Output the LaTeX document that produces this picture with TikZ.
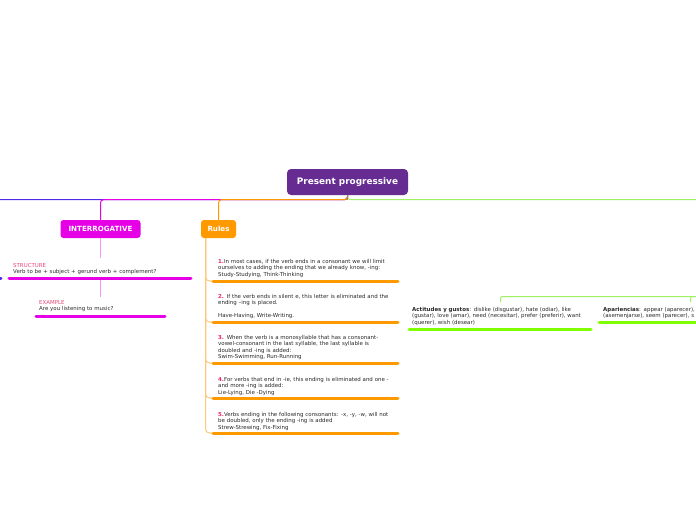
\documentclass[tikz,border=0pt]{standalone}
\usepackage{fontspec}
\setmainfont{DejaVu Sans}
\definecolor{rootc}{RGB}{102,44,145}
\definecolor{magc}{RGB}{230,0,230}
\definecolor{pinkl}{RGB}{245,150,245}
\definecolor{orc}{RGB}{255,153,0}
\definecolor{orl}{RGB}{255,200,120}
\definecolor{grc}{RGB}{128,255,0}
\definecolor{grl}{RGB}{160,240,100}
\definecolor{bluec}{RGB}{80,40,230}
\definecolor{olivec}{RGB}{160,140,80}
\definecolor{labc}{RGB}{232,70,120}
\definecolor{numc}{RGB}{232,40,100}
\definecolor{txtc}{RGB}{40,40,40}
\tikzset{
  rootbox/.style={fill=rootc, text=white, rounded corners=4pt, minimum width=121pt, minimum height=26pt, inner sep=0pt, font=\fontsize{8.9}{10}\selectfont\bfseries},
  topbox/.style={rounded corners=3pt, text=white, minimum height=18pt, inner sep=0pt, font=\fontsize{7.1}{8}\selectfont\bfseries},
  txt/.style={anchor=base west, inner sep=0pt, text width=220pt, align=left, text=txtc, font=\fontsize{5.45}{6.5}\selectfont},
  conn/.style={line width=1pt, rounded corners=3pt},
  uline/.style={line width=3pt, line cap=round},
}
\newcommand{\num}[1]{\textcolor{numc}{\bfseries #1}}
\begin{document}
\begin{tikzpicture}[x=1pt,y=-1pt]
\clip (0,0) rectangle (696,520);
\fill[white] (0,0) rectangle (696,520);
% nodes
\node[rootbox] (root) at (347.5,182) {Present progressive};
\node[topbox, fill=magc, minimum width=80pt] (interr) at (100.5,229) {INTERROGATIVE};
\node[topbox, fill=orc, minimum width=35pt] (rules) at (218.5,229) {Rules};
\coordinate (offleft) at (-10,199.5);
\coordinate (offright) at (710,199.5);
% main connectors
\draw[conn, bluec] (root.south) -- ++(0,4.5) -- (offleft);
\draw[conn, grl] (root.south) -- ++(0,4.5) -- (offright);
\draw[conn, magc] (root.south) -- ++(0,4.5) -| (interr.north);
\draw[conn, orc] (root.south) -- ++(0,4.5) -| (rules.north);
\draw[line width=1pt, olivec] (root.south) -- ++(0,5);
% interrogative branch
\node[txt] (struct) at (13,267) {\textcolor{labc}{STRUCTURE}\\Verb to be + subject + gerund verb + complement?};
\coordinate (structtop) at (100.5,258);
\coordinate (sul) at (9,278);
\coordinate (sur) at (191,278);
\coordinate (exampletop) at (100.5,297);
\node[txt] (example) at (39,304) {\textcolor{labc}{EXAMPLE}\\Are you listening to music?};
\coordinate (eul) at (36,316);
\coordinate (eur) at (165,316);
\draw[line width=1pt, pinkl] (interr.south) -- (structtop);
\draw[line width=1pt, pinkl] (100.5,279.5) -- (exampletop);
\draw[uline, magc] (sul) -- (sur);
\draw[uline, magc] (eul) -- (eur);
\coordinate (bl1) at (-6,278);
\coordinate (bl2) at (1,278);
\draw[uline, bluec] (bl1) -- (bl2);
% rules branch
\coordinate (rv) at (205.5,238);
\node[txt] (r1) at (218,263) {\num{1.}In most cases, if the verb ends in a consonant we will limit\\ourselves to adding the ending that we already know, -ing:\\Study-Studying, Think-Thinking};
\node[txt] (r2) at (218,298) {\num{2.} If the verb ends in silent e, this letter is eliminated and the\\ending –ing is placed.\\[6.5pt]Have-Having, Write-Writing.};
\node[txt] (r3) at (218,339) {\num{3.} When the verb is a monosyllable that has a consonant-\\vowel-consonant in the last syllable, the last syllable is\\doubled and -ing is added:\\Swim-Swimming, Run-Running};
\node[txt] (r4) at (218,381) {\num{4.}For verbs that end in -ie, this ending is eliminated and one -\\and more -ing is added:\\Lie-Lying, Die -Dying};
\node[txt] (r5) at (218,416) {\num{5.}Verbs ending in the following consonants: -x, -y, -w, will not\\be doubled, only the ending -ing is added\\Strew-Strewing, Fix-Fixing};
\foreach \i/\yy in {1/281,2/322,3/363,4/398,5/433}{
  \coordinate (u\i s) at (213,\yy);
  \coordinate (u\i e) at (398,\yy);
  \draw[line width=1pt, orl, rounded corners=4pt] (rv) |- (u\i s);
  \draw[uline, orc] (u\i s) -- (u\i e);
}
% right branch
\coordinate (gin) at (710,296.5);
\coordinate (actitop) at (500.5,302);
\coordinate (apartop) at (690.5,302);
\draw[line width=1pt, grl, rounded corners=2pt] (gin) -| (actitop);
\draw[line width=1pt, grl, rounded corners=2pt] (gin) -| (apartop);
\node[txt] (acti) at (412,311) {\textbf{Actitudes y gustos}: dislike (disgustar), hate (odiar), like\\(gustar), love (amar), need (necesitar), prefer (preferir), want\\(querer), wish (desear)};
\node[txt] (apar) at (603,311) {\textbf{Apariencias}: appear (aparecer),\\(asemenjarse), seem (parecer), s};
\coordinate (aul) at (409,329);
\coordinate (aur) at (591,329);
\coordinate (pul) at (599,322);
\coordinate (pur) at (781,322);
\draw[uline, grc] (aul) -- (aur);
\draw[uline, grc] (pul) -- (pur);
\end{tikzpicture}
\end{document}
